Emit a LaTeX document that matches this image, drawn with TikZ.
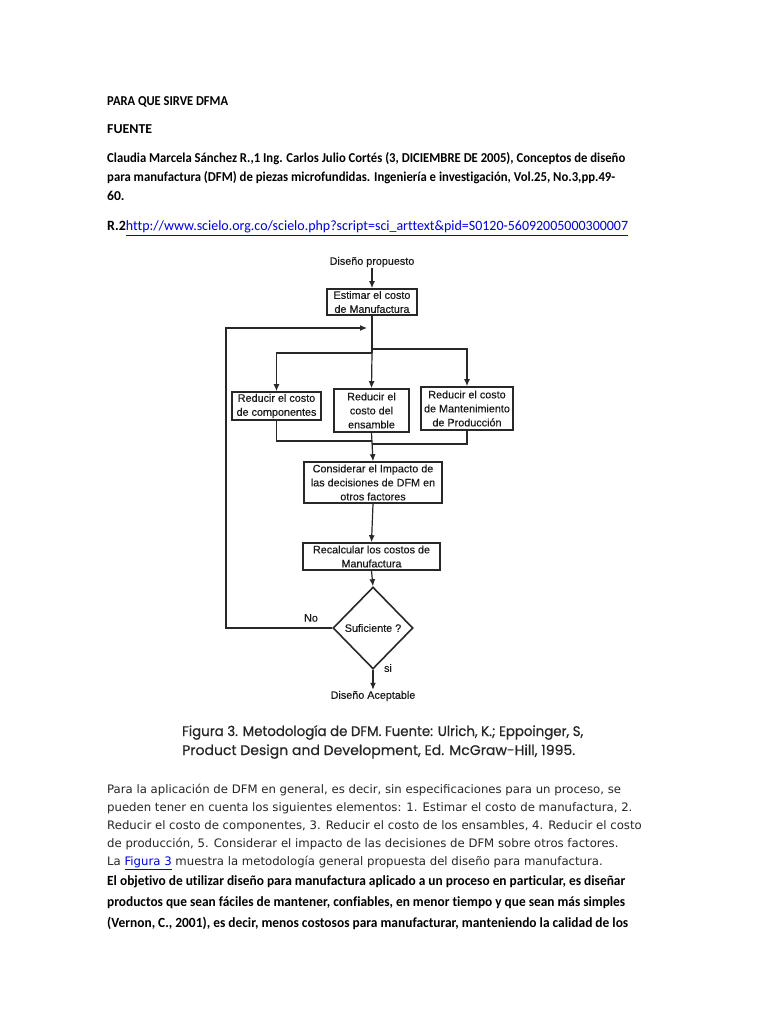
\documentclass[tikz,border=0pt]{standalone}
\usepackage{fontspec}
\usepackage{graphicx}
\setmainfont{Carlito}[Ligatures=NoCommon]
\newfontfamily\verd{DejaVu Sans}
\newfontfamily\arialf{Liberation Sans}[FakeBold=0.35]
\newfontfamily\futf{Poppins}[FakeBold=0.6]
\usetikzlibrary{shapes.geometric,arrows.meta}
\definecolor{linkblue}{RGB}{0,0,225}
\definecolor{fline}{RGB}{40,40,40}
\newcommand\fitto[2]{\resizebox{#1}{\height}{#2}}
\begin{document}
\begin{tikzpicture}[x=1pt,y=-1pt,
  hdr/.style={anchor=base west,inner sep=0pt,font=\fontsize{13.6}{15}\selectfont\bfseries},
  obj/.style={anchor=base west,inner sep=0pt,font=\fontsize{14}{15}\selectfont\bfseries},
  para/.style={anchor=base west,inner sep=0pt,font=\verd\fontsize{11.7}{13}\selectfont,text=black!85},
  captxt/.style={anchor=base west,inner sep=0pt,font=\futf\fontsize{13.9}{16}\selectfont,text=black!85},
  fbox/.style={draw=fline,line width=1.6pt,inner sep=1pt,align=center,text=black!90,font=\arialf\fontsize{10.8}{14}\selectfont},
  ftext/.style={inner sep=1pt,text=black!90,font=\arialf\fontsize{10.8}{13}\selectfont},
  arr/.style={draw=fline,line width=1.2pt,-{Latex[length=7pt,width=6pt]}},
  ln/.style={draw=fline,line width=1.2pt}]
\useasboundingbox[fill=white] (0,0) rectangle (768,1024);
% header text
\node[hdr] (t1) at (107,106) {\fitto{121pt}{PARA QUE SIRVE DFMA}};
\node[hdr] (t2) at (107,134) {\fitto{45pt}{FUENTE}};
\node[hdr] (t3) at (107,163) {\fitto{518pt}{Claudia Marcela Sánchez R.,1 Ing. Carlos Julio Cortés (3, DICIEMBRE DE 2005), Conceptos de diseño}};
\node[hdr] (t4) at (107,182) {\fitto{508pt}{para manufactura (DFM) de piezas microfundidas. Ingeniería e investigación, Vol.25, No.3,pp.49-}};
\node[hdr] (t5) at (107,201) {60.};
\node[anchor=base west,inner sep=0pt,font=\fontsize{14.2}{16}\selectfont] (t6) at (107,231) {\fitto{521pt}{\textbf{R.2}\textcolor{linkblue}{\underline{http://www.scielo.org.co/scielo.php?script=sci\_arttext\&pid=S0120-56092005000300007}}}};
% flowchart
\node[ftext] (start) at (372,262) {Diseño propuesto};
\node[fbox,minimum width=90pt,minimum height=26pt] (est) at (372,302) {Estimar el costo\\de Manufactura};
\node[fbox,minimum width=89pt,minimum height=28pt] (rl) at (276.5,406) {Reducir el costo\\de componentes};
\node[fbox,minimum width=75pt,minimum height=43pt] (rm) at (371.5,410.5) {Reducir el\\costo del\\ensamble};
\node[fbox,minimum width=92pt,minimum height=43pt] (rr) at (467,408.5) {Reducir el costo\\de Mantenimiento\\de Producción};
\node[fbox,minimum width=138pt,minimum height=41pt] (con) at (373,482.5) {Considerar el Impacto de\\las decisiones de DFM en\\otros factores};
\node[fbox,minimum width=137pt,minimum height=27pt] (rec) at (371.5,556.5) {Recalcular los costos de\\Manufactura};
\node[diamond,draw=fline,line width=1.6pt,minimum width=80pt,minimum height=82pt,inner sep=0pt,text=black!90,font=\arialf\fontsize{10.8}{12}\selectfont] (dia) at (373,628) {Suficiente ?};
\node[ftext] (fin) at (373,696) {Diseño Aceptable};
\node[ftext] (no) at (311,618) {No};
\node[ftext] (si) at (388,668) {si};
\coordinate (brl) at (372,353);
\coordinate (brr) at (372,349);
\coordinate (mgl) at (372,441);
\coordinate (mgr) at (372,444);
\coordinate (fbl) at (226,628);
\coordinate (fbt) at (226,328);
\coordinate (fbe) at (367,328);
\draw[arr] (start) -- (est);
\draw[ln] (est.south) -- (brl);
\draw[arr] (brl) -| (rl.north);
\draw[arr] (brl) -- (rm.north);
\draw[arr] (brr) -| (rr.north);
\draw[ln] (rl.south) |- (mgl);
\draw[ln] (rr.south) |- (mgr);
\draw[arr] (rm.south) -- (con.north);
\draw[arr] (con.south) -- (rec.north);
\draw[arr] (rec.south) -- (dia.north);
\draw[arr] (dia.south) -- (fin.north);
\draw[arr] (dia.west) -- (fbl) -- (fbt) -- (fbe);
% caption
\node[captxt] (c1) at (182,736) {\fitto{401pt}{Figura 3. Metodología de DFM. Fuente: Ulrich, K.; Eppoinger, S,}};
\node[captxt] (c2) at (182,755) {\fitto{393pt}{Product Design and Development, Ed. McGraw-Hill, 1995.}};
% paragraph 1
\node[para] (p1) at (107,793) {Para la aplicación de DFM en general, es decir, sin especificaciones para un proceso, se};
\node[para] (p2) at (107,811) {pueden tener en cuenta los siguientes elementos: 1. Estimar el costo de manufactura, 2.};
\node[para] (p3) at (107,829) {Reducir el costo de componentes, 3. Reducir el costo de los ensambles, 4. Reducir el costo};
\node[para] (p4) at (107,847) {de producción, 5. Considerar el impacto de las decisiones de DFM sobre otros factores.};
\node[para] (p5) at (107,865) {La \textcolor{linkblue}{\underline{Figura 3}} muestra la metodología general propuesta del diseño para manufactura.};
% paragraph 2
\node[obj] (q1) at (107,885) {\fitto{518pt}{El objetivo de utilizar diseño para manufactura aplicado a un proceso en particular, es diseñar}};
\node[obj] (q2) at (107,906) {\fitto{518pt}{productos que sean fáciles de mantener, confiables, en menor tiempo y que sean más simples}};
\node[obj] (q3) at (107,927) {\fitto{521pt}{(Vernon, C., 2001), es decir, menos costosos para manufacturar, manteniendo la calidad de los}};
\end{tikzpicture}
\end{document}
